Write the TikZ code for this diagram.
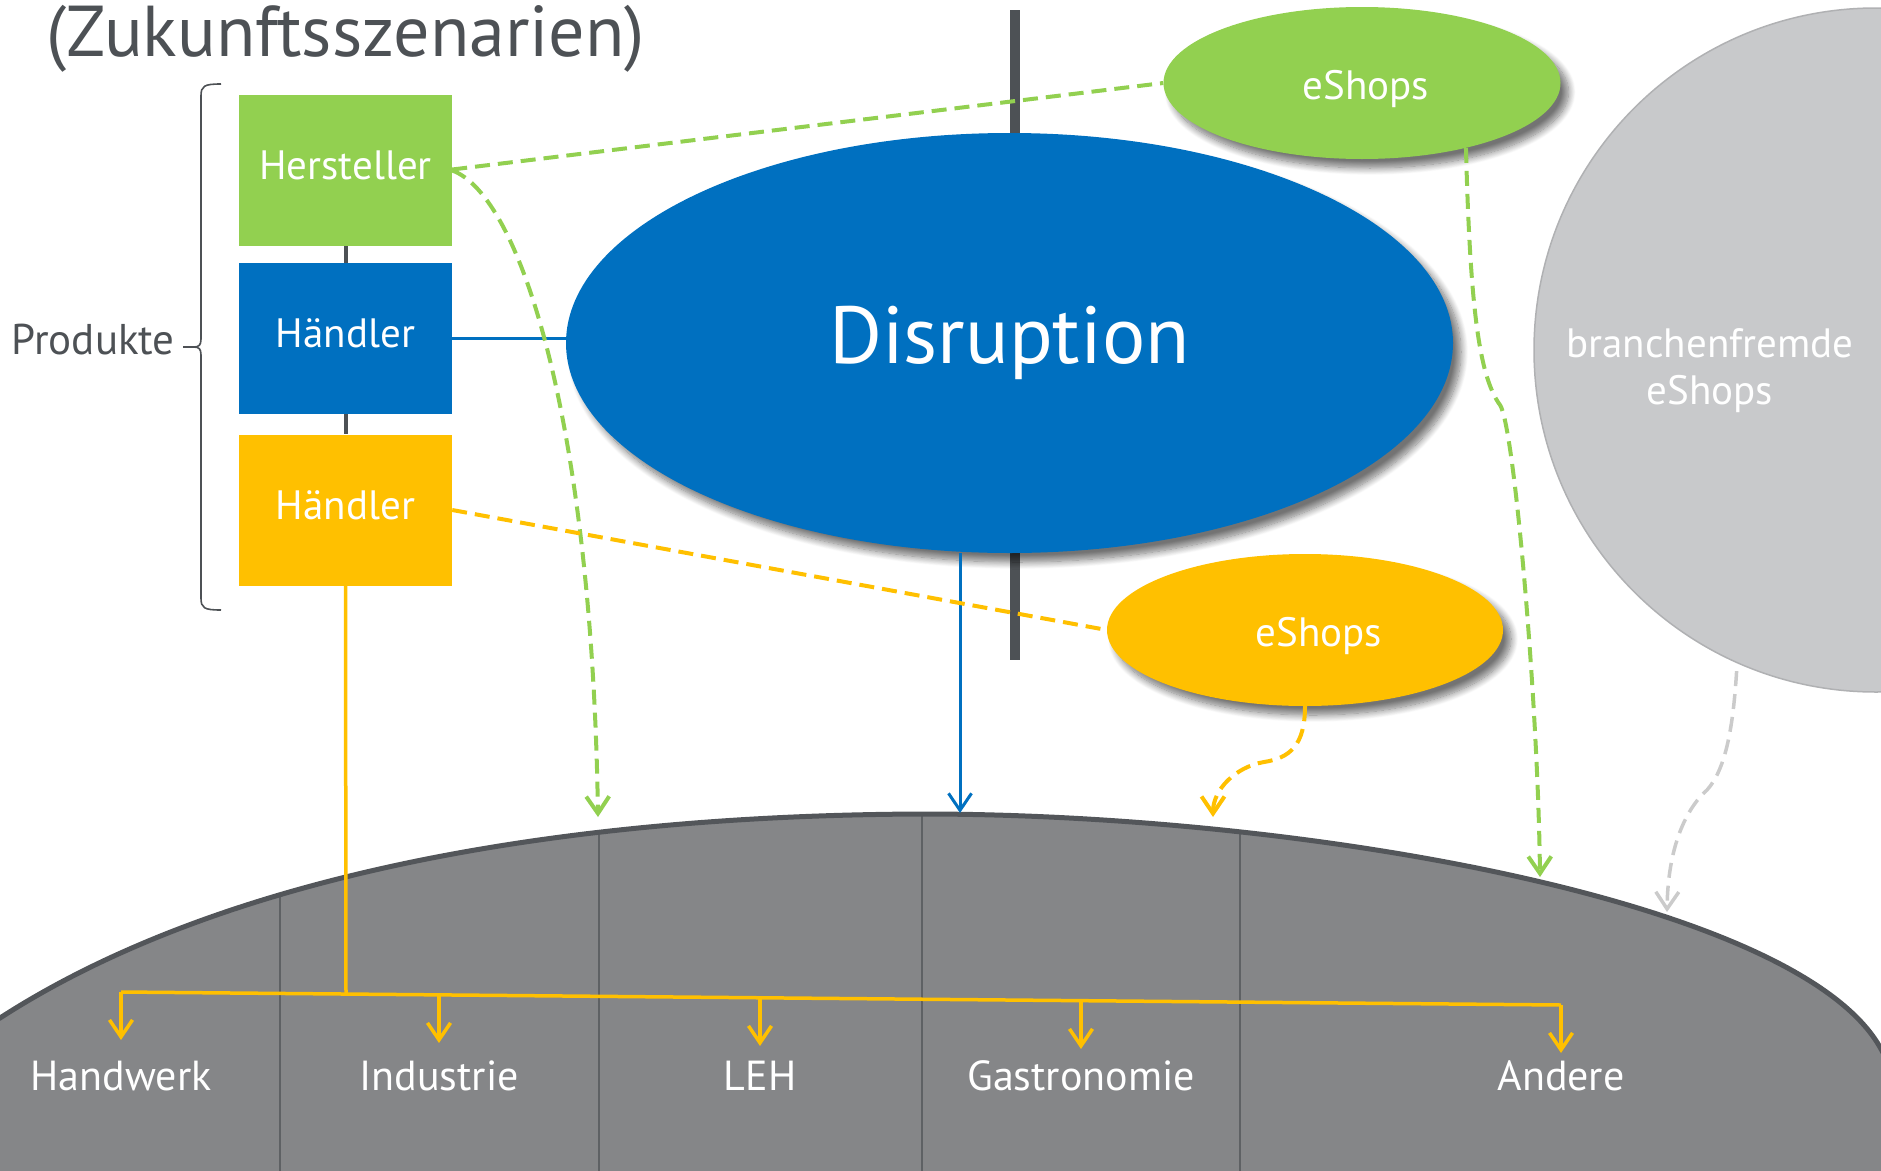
\documentclass[tikz,border=0pt]{standalone}
\usepackage{fontspec}
\setmainfont{PT Sans}
\usetikzlibrary{shapes.geometric,arrows.meta,shadows.blur}
\definecolor{cgreen}{HTML}{92D050}
\definecolor{cblue}{HTML}{0070C0}
\definecolor{cyellow}{HTML}{FFC000}
\definecolor{ctext}{HTML}{4D5155}
\definecolor{cdome}{HTML}{858688}
\definecolor{cdomeline}{HTML}{53565A}
\definecolor{cdivider}{HTML}{5E6164}
\definecolor{ccircle}{HTML}{C8C9CB}
\definecolor{ccircleline}{HTML}{B0B1B3}
\definecolor{cgraydash}{HTML}{CBCBCB}
\def\domecurve{(-100,1073) -- (0,1018) .. controls (240,863) and (600,815) .. (923,814) .. controls (1300,814) and (1800,900) .. (1881,1049) -- (1960,1194)}
\begin{document}
\begin{tikzpicture}[x=1pt,y=-1pt,
  box/.style={rectangle, minimum width=213pt, minimum height=151pt, inner sep=0pt, text=white, text height=30pt, text depth=12pt, font=\fontsize{41}{45}\selectfont},
  oval/.style={ellipse, inner sep=0pt, text=white},
  shad/.style={blur shadow={shadow xshift=8pt, shadow yshift=-9pt, shadow blur steps=12, shadow blur radius=7pt, shadow opacity=55}},
  eslbl/.style={text=white, inner sep=0pt, font=\fontsize{41}{45}\selectfont},
  lbl/.style={text=white, inner sep=0pt, font=\fontsize{42}{46}\selectfont, anchor=base},
  tip/.style={-{Straight Barb[length=17pt,width=23pt]}},
  dsh/.style={dash pattern=on 15pt off 8pt},
]
\useasboundingbox (0,0) rectangle (1881,1170);
\clip (0,0) rectangle (1881,1170);

% title
\node[anchor=base west, text=ctext, inner sep=0pt, font=\fontsize{72}{80}\selectfont] (title) at (46,56) {(Zukunftsszenarien)};

% big grey circle
\node[circle, fill=ccircle, draw=ccircleline, line width=1.5pt, minimum size=684pt, inner sep=0pt] (bf) at (1876,350) {};
\node[align=center, text=white, inner sep=0pt, font=\fontsize{41}{47}\selectfont] (bft) at (1710,371) {branchenfremde\\eShops};

% dome
\fill[cdome] \domecurve -- (1960,1250) -- (-100,1250) -- cycle;
\begin{scope}
  \clip \domecurve -- (1960,1250) -- (-100,1250) -- cycle;
  \foreach \xx in {280,599,922,1240} \draw[cdivider, line width=1.6pt] (\xx,800) -- (\xx,1200);
\end{scope}
\draw[cdomeline, line width=5pt] \domecurve;

% target coordinates on the dome
\coordinate (tgA) at (598,817);
\coordinate (tgB) at (960,813);
\coordinate (tgD) at (1213,817);
\coordinate (tgC) at (1540,877);
\coordinate (tgE) at (1667,912);

% vertical bar
\fill[ctext] (1010,10) rectangle (1020,660);

% ellipses
\node[oval, fill=cblue, shad, minimum width=887pt, minimum height=420pt, font=\fontsize{81}{90}\selectfont] (dis) at (1009.5,343) {Disruption};
\node[oval, fill=cgreen, shad, minimum width=397pt, minimum height=152pt, label={[eslbl, xshift=4pt, yshift=-6pt]center:eShops}] (eg) at (1362,83) {};
\node[oval, fill=cyellow, shad, minimum width=396pt, minimum height=152pt, label={[eslbl, xshift=14pt, yshift=-6pt]center:eShops}] (ey) at (1305,630) {};

% boxes
\node[box, fill=cgreen] (her) at (345.5,170.5) {Hersteller};
\node[box, fill=cblue] (hb) at (345.5,338.5) {Händler};
\node[box, fill=cyellow] (hy) at (345.5,510) {Händler};

% brace and label
\node[anchor=east, text=ctext, inner sep=0pt, font=\fontsize{43}{47}\selectfont] (prod) at (175,340) {Produkte};
\draw[ctext, line width=1.6pt] (221,84) .. controls (204,84) and (201,86) .. (201,96) -- (201,339)
  .. controls (201,345) and (199,347) .. (194,347) -- (183,347)
  (194,347) .. controls (199,347) and (201,349) .. (201,355) -- (201,598)
  .. controls (201,608) and (204,610) .. (221,610);

% box connectors
\draw[ctext, line width=4pt] (her.south) -- (hb.north);
\draw[ctext, line width=4pt] (hb.south) -- (hy.north);
\draw[cblue, line width=3pt] (hb.east) -- (hb.east -| dis.west);
\draw[cblue, line width=3pt, tip] (dis.south -| tgB) -- (tgB);

% dashed connectors
\draw[cgreen, line width=4pt, dsh] ([yshift=1pt]her.east) -- (eg.west);
\draw[cgreen, line width=4pt, dsh, tip] (her.east) .. controls (520,195) and (592,420) .. (tgA);
\draw[cgreen, line width=4pt, dsh, tip] (eg.328) .. controls (1470,300) and (1478,375) .. (1500,405)
  .. controls (1514,425) and (1538,700) .. (tgC);
\draw[cyellow, line width=4pt, dsh] (hy.east) -- (ey.west);
\draw[cyellow, line width=4pt, dsh, tip] (ey.south) .. controls (1305,745) and (1290,758) .. (1264,762)
  .. controls (1235,767) and (1213,790) .. (tgD);
\draw[cgraydash, line width=3.5pt, dsh, tip] ([yshift=-8pt]bf.246) .. controls (1733,730) and (1725,770) .. (1707,790)
  .. controls (1690,805) and (1668,840) .. (tgE);

% distribution tree
\coordinate (bj) at (346,994);
\coordinate (a1) at (121,992);
\coordinate (a2) at (439,994.9);
\coordinate (a3) at (760,997.8);
\coordinate (a4) at (1081,1000.7);
\coordinate (a5) at (1561,1005);
\coordinate (t1) at (121,1040);
\coordinate (t2) at (439,1043);
\coordinate (t3) at (760,1046);
\coordinate (t4) at (1081,1049);
\coordinate (t5) at (1561,1053);
\draw[cyellow, line width=3.5pt] (hy.south) -- (bj);
\draw[cyellow, line width=3.5pt] (a1) -- (a5);
\foreach \i in {1,...,5} \draw[cyellow, line width=3.5pt, tip] (a\i) -- (t\i);

\node[lbl] (s1) at (121,1090) {Handwerk};
\node[lbl] (s2) at (439,1090) {Industrie};
\node[lbl] (s3) at (760,1090) {LEH};
\node[lbl] (s4) at (1081,1090) {Gastronomie};
\node[lbl] (s5) at (1561,1090) {Andere};
\end{tikzpicture}
\end{document}
